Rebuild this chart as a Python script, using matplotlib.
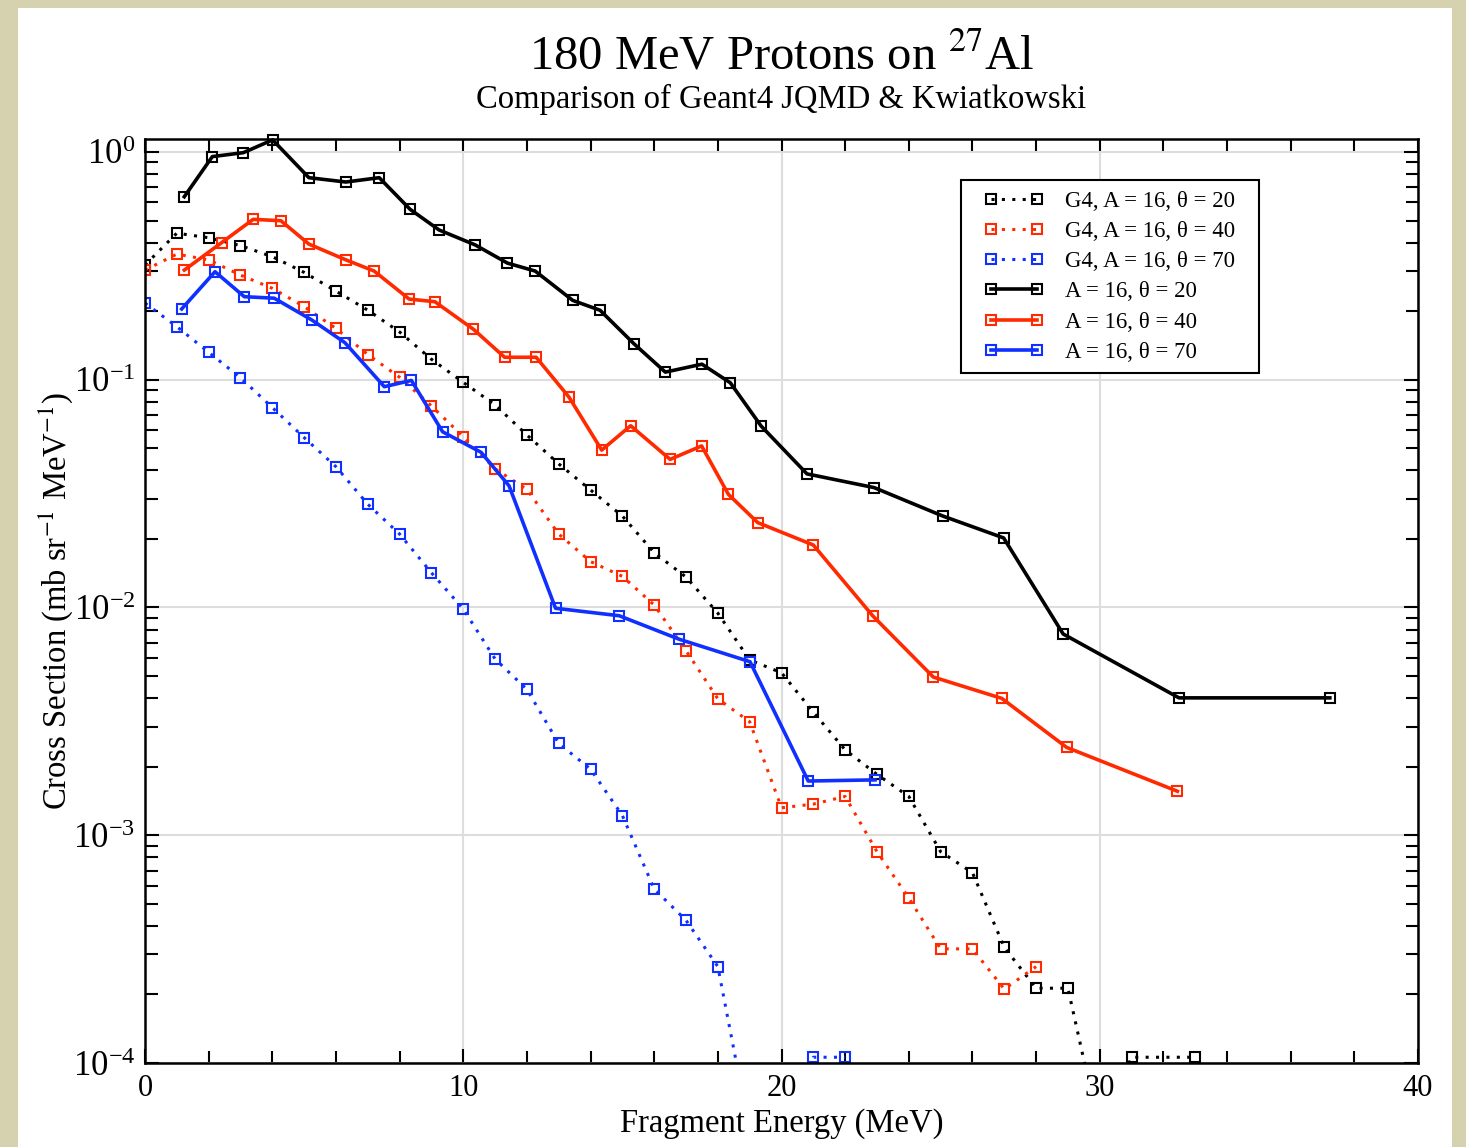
import numpy as np
import matplotlib
matplotlib.use('Agg')
import matplotlib.pyplot as plt
from matplotlib.patches import Rectangle
from matplotlib.legend_handler import HandlerLine2D
from matplotlib.ticker import MultipleLocator, LogLocator, LogFormatterMathtext, NullFormatter

plt.rcParams['font.family'] = ['Liberation Serif', 'DejaVu Serif']
plt.rcParams['mathtext.fontset'] = 'stix'

# G4 JQMD (dotted)
e_g4_20 = [0, 1, 2, 3, 4, 5, 6, 7, 8, 9, 10, 11, 12, 13, 14, 15, 16, 17, 18, 19,
           20, 21, 22, 23, 24, 25, 26, 27, 28, 29, 30, 31, 33]
xs_g4_20 = [0.319, 0.440, 0.420, 0.388, 0.347, 0.296, 0.245, 0.202, 0.162, 0.123,
            0.0974, 0.0775, 0.0572, 0.0427, 0.0328, 0.0252, 0.0174, 0.0136, 0.00944, 0.00588,
            0.00517, 0.00347, 0.00237, 0.00185, 0.00148, 0.000847, 0.000685, 0.000322, 0.000213, 0.000213,
            5e-5, 1.06e-4, 1.06e-4]

e_g4_40 = [0, 1, 2, 3, 4, 5, 6, 7, 8, 9, 10, 11, 12, 13, 14, 15, 16, 17, 18, 19,
           20, 21, 22, 23, 24, 25, 26, 27, 28]
xs_g4_40 = [0.303, 0.356, 0.336, 0.288, 0.252, 0.2094, 0.168, 0.129, 0.1025, 0.0767,
            0.0562, 0.0406, 0.0330, 0.0210, 0.0159, 0.0137, 0.01025, 0.00646, 0.00397, 0.00315,
            0.00132, 0.00137, 0.00148, 0.000847, 0.000530, 0.000317, 0.000317, 0.000211, 0.000265]

e_g4_70 = [0, 1, 2, 3, 4, 5, 6, 7, 8, 9, 10, 11, 12, 13, 14, 15, 16, 17, 18, 19,
           20, 21, 22]
xs_g4_70 = [0.217, 0.171, 0.132, 0.102, 0.0755, 0.0557, 0.0415, 0.0284, 0.0210, 0.0142,
            0.00985, 0.00594, 0.00437, 0.00253, 0.00195, 0.00122, 0.000581, 0.000423, 0.000265, 5e-5,
            3e-5, 1.06e-4, 1.06e-4]

# Kwiatkowski data (solid)
e_exp_20 = [1.235, 2.115, 3.09, 4.01, 5.15, 6.31, 7.36, 8.33, 9.24, 10.37, 11.39, 12.26,
            13.44, 14.30, 15.36, 16.35, 17.50, 18.39, 19.36, 20.80, 22.91, 25.07, 26.98,
            28.85, 32.49, 37.23]
xs_exp_20 = [0.636, 0.954, 0.993, 1.13, 0.771, 0.738, 0.771, 0.560, 0.4545, 0.391, 0.325, 0.300,
             0.223, 0.2018, 0.144, 0.108, 0.117, 0.097, 0.0626, 0.0386, 0.0336, 0.0252, 0.0202,
             0.00765, 0.00401, 0.00401]

e_exp_40 = [1.235, 2.41, 3.40, 4.27, 5.15, 6.31, 7.20, 8.30, 9.11, 10.32, 11.30, 12.29,
            13.33, 14.35, 15.26, 16.50, 17.49, 18.33, 19.25, 21.0, 22.87, 24.77, 26.92,
            28.96, 32.44]
xs_exp_40 = [0.303, 0.400, 0.506, 0.499, 0.394, 0.336, 0.300, 0.226, 0.220, 0.1665, 0.1255, 0.1255,
             0.0836, 0.0491, 0.0628, 0.0447, 0.0512, 0.0314, 0.0236, 0.0188, 0.00918, 0.00495, 0.00399,
             0.00243, 0.00156]

e_exp_70 = [1.153, 2.20, 3.12, 4.06, 5.24, 6.28, 7.52, 8.37, 9.35, 10.56, 11.44, 12.90,
            14.90, 16.79, 19.01, 20.84, 22.94]
xs_exp_70 = [0.2045, 0.298, 0.2315, 0.228, 0.183, 0.1455, 0.0932, 0.0993, 0.0591, 0.048, 0.0342,
             0.00992, 0.0092, 0.00725, 0.00578, 0.00173, 0.00175]

black = 'black'
red = '#ff2a00'
blue = '#1030ff'

W, H = 1466, 1147
fig = plt.figure(figsize=(W / 100, H / 100), dpi=100, facecolor='#d6d2b0')
fig.patches.append(Rectangle((18 / W, 0), (1452 - 18) / W, 1 - 8 / H, transform=fig.transFigure,
                             facecolor='white', edgecolor='none', zorder=-5))

ax = fig.add_axes([145 / W, 1 - 1063 / H, (1418 - 145) / W, (1063 - 139) / H])
ax.set_yscale('log')
ax.set_xlim(0, 40)
ax.set_ylim(1e-4, 1.14)

dot = (0, (1, 2.4))
mk = dict(marker='s', ms=7.5, mfc='none', mew=1.5)

ax.plot(e_g4_20, xs_g4_20, color=black, ls=dot, lw=2.2, label='G4, A = 16, θ = 20', **mk)
ax.plot(e_g4_40, xs_g4_40, color=red, ls=dot, lw=2.2, label='G4, A = 16, θ = 40', **mk)
ax.plot(e_g4_70, xs_g4_70, color=blue, ls=dot, lw=2.2, label='G4, A = 16, θ = 70', **mk)
ax.plot(e_exp_20, xs_exp_20, color=black, ls='-', lw=2.6, label='A = 16, θ = 20',
        clip_on=False, **mk)
ax.plot(e_exp_40, xs_exp_40, color=red, ls='-', lw=2.6, label='A = 16, θ = 40', **mk)
ax.plot(e_exp_70, xs_exp_70, color=blue, ls='-', lw=2.6, label='A = 16, θ = 70', **mk)

ax.xaxis.set_major_locator(MultipleLocator(10))
ax.xaxis.set_minor_locator(MultipleLocator(2))
ax.yaxis.set_major_locator(LogLocator(base=10))
ax.yaxis.set_minor_locator(LogLocator(base=10, subs=np.arange(2, 10)))
ax.yaxis.set_major_formatter(LogFormatterMathtext())
ax.yaxis.set_minor_formatter(NullFormatter())

ax.grid(True, which='major', color='#dddddd', lw=1.5)
ax.set_axisbelow(True)
ax.tick_params(which='both', direction='in', top=True, right=True, width=1.5)
ax.tick_params(which='major', length=10, pad=8)
ax.tick_params(which='minor', length=9)
ax.tick_params(axis='x', labelsize=22)
ax.tick_params(axis='y', labelsize=25, pad=7)
for s in ax.spines.values():
    s.set_linewidth(1.8)

ax.set_xlabel('Fragment Energy (MeV)', fontsize=23.5, labelpad=4)
ax.set_ylabel('Cross Section (mb sr$^{-1}$ MeV$^{-1}$)', fontsize=23.5)
ax.yaxis.set_label_coords(-0.055, 0.5)

fig.text(0.5331, 1 - 70 / H, '180 MeV Protons on $^{27}$Al', fontsize=35, ha='center', va='baseline')
fig.text(0.5331, 1 - 108 / H, 'Comparison of Geant4 JQMD & Kwiatkowski', fontsize=23.5,
         ha='center', va='baseline')

# legend box drawn separately so its padding can differ per side
ax.add_patch(Rectangle((0.641, 0.7468), 0.2341, 0.2088, transform=ax.transAxes,
                       facecolor='white', edgecolor='black', lw=1.5, zorder=4))
leg = ax.legend(loc='upper left', bbox_to_anchor=(0.659, 0.944), borderaxespad=0,
                frameon=False, fontsize=16.5, handlelength=2.6, numpoints=2,
                labelspacing=0.4, borderpad=0, handletextpad=0.96,
                handler_map={plt.Line2D: HandlerLine2D(marker_pad=0.3)})
leg.set_zorder(5)

fig.savefig('out.png', dpi=100, facecolor=fig.get_facecolor())
